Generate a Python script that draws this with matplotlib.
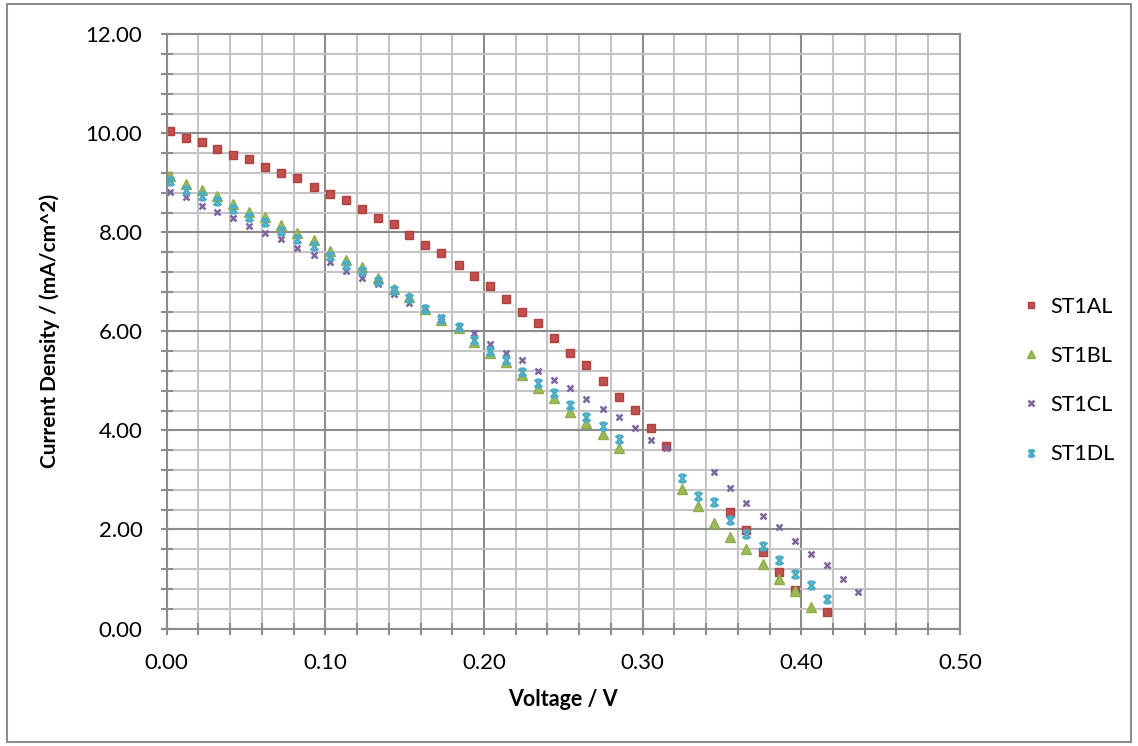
import numpy as np
import matplotlib
matplotlib.use("Agg")
import matplotlib.pyplot as plt
from matplotlib.path import Path
from matplotlib.patches import Rectangle
from matplotlib.ticker import MultipleLocator, FormatStrFormatter

nan = np.nan

# applied voltage (V), shared by all four cells
voltage = [0.002, 0.012, 0.022, 0.032, 0.042, 0.052, 0.062, 0.072, 0.082, 0.093,
           0.103, 0.113, 0.123, 0.133, 0.143, 0.153, 0.163, 0.173, 0.184, 0.194,
           0.204, 0.214, 0.224, 0.234, 0.244, 0.254, 0.264, 0.275, 0.285, 0.295,
           0.305, 0.315, 0.325, 0.335, 0.345, 0.355, 0.365, 0.376, 0.386, 0.396,
           0.406, 0.416, 0.426, 0.436]

# current density (mA/cm^2); nan = no point recorded
st1al = [10.04, 9.90, 9.83, 9.68, 9.56, 9.48, 9.33, 9.20, 9.10, 8.92,
         8.77, 8.66, 8.47, 8.29, 8.17, 7.94, 7.74, 7.59, 7.35, 7.12,
         6.92, 6.65, 6.39, 6.17, 5.87, 5.57, 5.33, 4.99, 4.68, 4.41,
         4.05, 3.69, nan, nan, nan, 2.35, 1.98, 1.54, 1.14, 0.78,
         nan, 0.33, nan, nan]
st1bl = [9.13, 8.98, 8.85, 8.73, 8.57, 8.42, 8.31, 8.14, 7.98, 7.85,
         7.63, 7.45, 7.31, 7.07, 6.86, 6.70, 6.45, 6.24, 6.06, 5.79,
         5.57, 5.38, 5.11, 4.85, 4.65, 4.38, 4.15, 3.92, 3.65, nan,
         nan, nan, 2.81, 2.47, 2.14, 1.85, 1.61, 1.30, 1.00, 0.76,
         0.43, nan, nan, nan]
st1cl = [8.82, 8.71, 8.54, 8.41, 8.29, 8.13, 7.98, 7.87, 7.69, 7.54,
         7.41, 7.23, 7.07, 6.95, 6.75, 6.58, 6.47, 6.29, 6.08, 5.96,
         5.75, 5.57, 5.42, 5.21, 5.01, 4.86, 4.64, 4.43, 4.27, 4.04,
         3.81, 3.64, nan, nan, 3.17, 2.84, 2.54, 2.27, 2.06, 1.77,
         1.51, 1.29, 0.99, 0.73]
st1dl = [9.03, 8.86, 8.73, 8.63, 8.47, 8.31, 8.21, 8.02, 7.87, 7.73,
         7.53, 7.34, 7.22, 7.02, 6.84, 6.67, 6.46, 6.25, 6.08, 5.83,
         5.61, 5.43, 5.18, 4.95, 4.76, 4.51, 4.28, 4.09, 3.83, nan,
         nan, nan, 3.03, 2.68, 2.56, 2.19, 1.91, 1.67, 1.38, 1.11,
         0.88, 0.60, nan, nan]

labels = ["ST1AL", "ST1BL", "ST1CL", "ST1DL"]

plt.rcParams["font.family"] = ["Lato", "DejaVu Sans"]

# excel-ish "star" marker: an x with bars on top and bottom
star = Path([(-1, -1), (1, 1), (-1, 1), (1, -1), (-0.6, 1), (0.6, 1), (-0.6, -1), (0.6, -1)],
            [Path.MOVETO, Path.LINETO, Path.MOVETO, Path.LINETO,
             Path.MOVETO, Path.LINETO, Path.MOVETO, Path.LINETO])

fig = plt.figure(figsize=(11.38, 7.46), dpi=100)
ax = fig.add_axes([0.1465, 0.1575, 0.697, 0.7965])

ax.plot(voltage, st1al, ls="none", marker="s", ms=5.5, color="#C0504D", mec="#B0413E", label=labels[0])
ax.plot(voltage, st1bl, ls="none", marker="^", ms=6.5, color="#9BBB59", mec="#8EAE4C", label=labels[1])
ax.plot(voltage, st1cl, ls="none", marker="x", ms=5, mew=1.8, color="#8064A2", label=labels[2])
ax.plot(voltage, st1dl, ls="none", marker=star, ms=5.5, mew=1.8, color="#4BACC6", mfc="none", label=labels[3])

ax.set_xlim(0, 0.5)
ax.set_ylim(0, 12)
ax.xaxis.set_major_locator(MultipleLocator(0.1))
ax.xaxis.set_minor_locator(MultipleLocator(0.02))
ax.yaxis.set_major_locator(MultipleLocator(2))
ax.yaxis.set_minor_locator(MultipleLocator(0.4))
ax.xaxis.set_major_formatter(FormatStrFormatter("%.2f"))
ax.yaxis.set_major_formatter(FormatStrFormatter("%.2f"))

ax.grid(which="major", color="#8c8c8c", lw=1.5)
ax.grid(which="minor", color="#c4c4c4", lw=1.5)
ax.set_axisbelow(True)
for s in ax.spines.values():
    s.set_color("#8c8c8c")
    s.set_linewidth(1.5)

ax.tick_params(which="both", direction="inout", length=9, width=1.5, color="#8c8c8c",
               labelsize=16, pad=13)

ax.set_xlabel("Voltage / V", fontsize=15.5, fontweight="bold", labelpad=12)
ax.set_ylabel("Current Density / (mA/cm^2)", fontsize=15, fontweight="bold")
ax.yaxis.set_label_coords(-0.134, 0.5)

fig.legend(loc="center left", bbox_to_anchor=(0.883, 0.49), frameon=False, fontsize=15.5,
           handlelength=0.6, handletextpad=0.6, labelspacing=1.35, markerscale=0.85)

# outer chart border
fig.patches.append(Rectangle((0.006, 0.006), 0.988, 0.988, transform=fig.transFigure,
                             fill=False, ec="#8c8c8c", lw=1.5))

fig.savefig("out.png", dpi=100)
